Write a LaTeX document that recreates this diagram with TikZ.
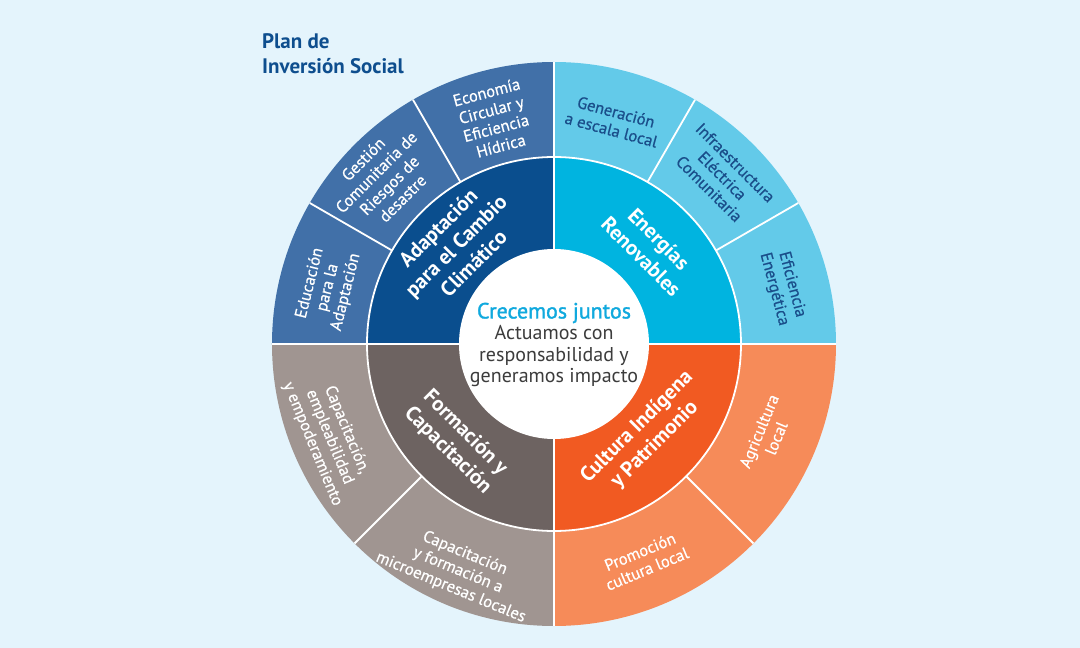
\documentclass[tikz,border=0pt]{standalone}
\usepackage{fontspec}
\setmainfont{PT Sans}
\newfontfamily\medfont{PT Sans}[FakeBold=0.6]
\newfontfamily\semifont{PT Sans}[FakeBold=1.4]
\definecolor{bgc}{HTML}{E4F4FC}
\definecolor{dblue}{HTML}{0A4E8E}
\definecolor{mblue}{HTML}{4170A8}
\definecolor{cyanin}{HTML}{00B4E0}
\definecolor{cyanout}{HTML}{63CAE9}
\definecolor{greyin}{HTML}{6D6361}
\definecolor{greyout}{HTML}{A09591}
\definecolor{orin}{HTML}{F15A22}
\definecolor{orout}{HTML}{F68B59}
\definecolor{titleblue}{HTML}{0E4E8E}
\definecolor{crec}{HTML}{10A9DE}
\definecolor{txtgrey}{HTML}{3C3C3C}
\definecolor{tropt}{HTML}{1A4E8A}
\newcommand\annsec[5]{\fill[#1] (#2:#4pt) arc[start angle=#2,end angle=#3,radius=#4pt] -- (#3:#5pt) arc[start angle=#3,end angle=#2,radius=#5pt] -- cycle;}
\begin{document}
\begin{tikzpicture}[x=1pt,y=1pt,
  innertxt/.style={text=white, inner sep=0pt, font=\bfseries\fontsize{21}{25}\selectfont, align=center},
  outertxt/.style={inner sep=0pt, font=\medfont\fontsize{16.5}{18.5}\selectfont, align=center},
  sep/.style={white, line width=1.8pt}]
\useasboundingbox (-554,-304) rectangle (526,344);
\fill[bgc] (-554,-304) rectangle (526,344);
% inner ring
\fill[dblue] (0,0) -- (90:187pt) arc[start angle=90,end angle=180,radius=187pt] -- cycle;
\fill[cyanin] (0,0) -- (0:187pt) arc[start angle=0,end angle=90,radius=187pt] -- cycle;
\fill[greyin] (0,0) -- (180:187pt) arc[start angle=180,end angle=270,radius=187pt] -- cycle;
\fill[orin] (0,0) -- (270:187pt) arc[start angle=270,end angle=360,radius=187pt] -- cycle;
% outer ring
\annsec{mblue}{90}{180}{187}{282}
\annsec{cyanout}{0}{90}{187}{282}
\annsec{greyout}{180}{270}{187}{282}
\annsec{orout}{270}{360}{187}{282}
% separators
\foreach \a in {0,90,180,270} \draw[sep] (0,0) -- (\a:282pt);
\foreach \a in {30,60,120,150,225,315} \draw[sep] (\a:187pt) -- (\a:282pt);
\draw[sep] (0,0) circle[radius=187pt];
\fill[white] (0,0) circle[radius=95pt];
% centre text
\node[align=center, inner sep=0pt, text=txtgrey, font=\fontsize{20}{21.5}\selectfont] (centre) at (0,-1)
  {{\color{crec}\semifont\fontsize{22}{21.5}\selectfont Crecemos juntos}\\Actuamos con\\responsabilidad y\\generamos impacto};
% title
\node[anchor=west, inner sep=0pt, align=left, text=titleblue, font=\bfseries\fontsize{21}{25}\selectfont] (title) at (-292,290) {Plan de\\Inversión Social};
% inner labels
\node[innertxt, rotate=45] (adap) at (135:139pt) {Adaptación\\para el Cambio\\Climático};
\node[innertxt, rotate=-45] (ener) at (45:136pt) {Energías\\Renovables};
\node[innertxt, rotate=-45] (form) at (225:138pt) {Formación y\\Capacitación};
\node[innertxt, rotate=45] (cult) at (315:130pt) {Cultura Indígena\\y Patrimonio};
% outer labels
\node[outertxt, text=white, rotate=15] (econ) at (105:233pt) {Economía\\Circular y\\Eficiencia\\Hídrica};
\node[outertxt, text=white, rotate=45] (gest) at (136:238pt) {Gestión\\Comunitaria de\\Riesgos de\\desastre};
\node[outertxt, text=white, rotate=76] (educ) at (166:233pt) {Educación\\para la\\Adaptación};
\node[outertxt, text=tropt, rotate=-15] (gene) at (75:231pt) {Generación\\a escala local};
\node[outertxt, text=tropt, rotate=-45] (infr) at (45:238pt) {Infraestructura\\Eléctrica\\Comunitaria};
\node[outertxt, text=tropt, rotate=-75] (efic) at (14:236pt) {Eficiencia\\Energética};
\node[outertxt, text=white, rotate=-67.5] (capa) at (202.5:243pt) {Capacitación,\\empleabilidad\\y empoderamiento};
\node[outertxt, text=white, rotate=-22.5] (micr) at (247:246pt) {Capacitación\\y formación a\\microempresas locales};
\node[outertxt, text=white, rotate=67.5] (agri) at (337:232pt) {Agricultura\\local};
\node[outertxt, text=white, rotate=22.5] (prom) at (292.5:234pt) {Promoción\\cultura local};
\end{tikzpicture}
\end{document}
